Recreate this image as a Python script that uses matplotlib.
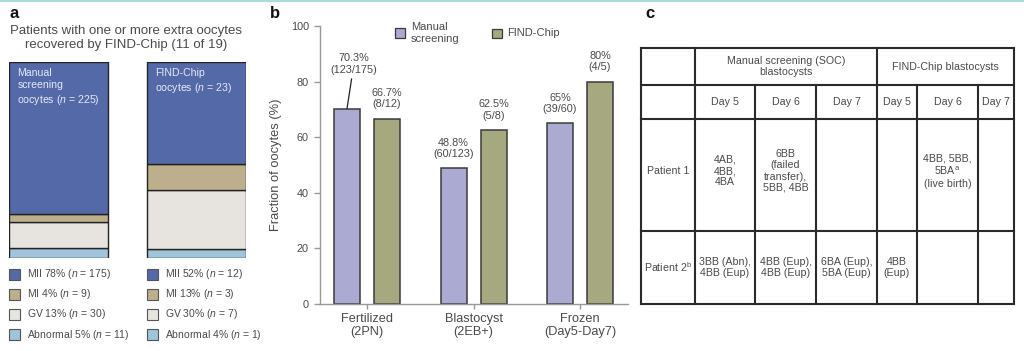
import matplotlib
matplotlib.use("Agg")
import matplotlib.pyplot as plt
from matplotlib.patches import Rectangle

plt.rcParams['font.family'] = ['Liberation Sans', 'DejaVu Sans']
plt.rcParams['mathtext.fontset'] = 'custom'
plt.rcParams['mathtext.it'] = 'Liberation Sans:italic'
plt.rcParams['mathtext.rm'] = 'Liberation Sans'

W, H = 1024, 351

# panel a: oocyte stages
stages = ['MII', 'MI', 'GV', 'Abnormal']
manual_counts = [175, 9, 30, 11]
chip_counts = [12, 3, 7, 1]
stage_colors = ['#5469a8', '#bdae8c', '#e7e4df', '#a0c4da']

# panel b: outcomes
outcomes = ['Fertilized\n(2PN)', 'Blastocyst\n(2EB+)', 'Frozen\n(Day5-Day7)']
manual_k = [123, 60, 39]
manual_n = [175, 123, 60]
chip_k = [8, 5, 4]
chip_n = [12, 8, 5]

# panel c: table
header_top = ['', 'Manual screening (SOC)\nblastocysts', 'FIND-Chip blastocysts']
header_days = ['', 'Day 5', 'Day 6', 'Day 7', 'Day 5', 'Day 6', 'Day 7']
row_p1 = ['Patient 1', '4AB,\n4BB,\n4BA', '6BB\n(failed\ntransfer),\n5BB, 4BB', '', '',
          '4BB, 5BB,\n5BA$^{\\mathrm{a}}$\n(live birth)', '']
row_p2 = ['Patient 2$^{\\mathrm{b}}$', '3BB (Abn),\n4BB (Eup)', '4BB (Eup),\n4BB (Eup)',
          '6BA (Eup),\n5BA (Eup)', '4BB\n(Eup)', '', '']

TXT = '#4a4a4a'


def px(x0, y0, x1, y1):
    return [x0 / W, 1 - y1 / H, (x1 - x0) / W, (y1 - y0) / H]


fig = plt.figure(figsize=(W / 100, H / 100), dpi=100)
ov = fig.add_axes([0, 0, 1, 1])
ov.set_xlim(0, W)
ov.set_ylim(H, 0)
ov.axis('off')
ov.set_zorder(5)

# thin line at the top of the screenshot
ov.plot([0, W], [0.8, 0.8], color='#a9ded6', lw=1.6)

# panel letters
for lab, x in zip(['a', 'b', 'c'], [9, 270, 645]):
    ov.text(x, 13, lab, fontsize=12, fontweight='bold', va='center', ha='left', color='#111')

# ---------- panel a ----------
ov.text(126, 38, 'Patients with one or more extra oocytes\nrecovered by FIND-Chip (11 of 19)',
        ha='center', va='center', fontsize=9.5, color=TXT, linespacing=1.15)

axa = fig.add_axes(px(9, 62, 246, 258))
bw = 99 / 138
for xi, counts in enumerate([manual_counts, chip_counts]):
    tot = sum(counts)
    bottom = 0
    for c, col in zip(counts[::-1], stage_colors[::-1]):
        axa.bar(xi, c / tot, bw, bottom=bottom, color=col, edgecolor='#222', lw=1)
        bottom += c / tot
axa.set_xlim(-0.5 * bw, 1 + 0.5 * bw)
axa.set_ylim(0, 1)
axa.axis('off')
axa.text(-0.5 * bw + 0.06, 0.97, 'Manual\nscreening\noocytes ($n$ = %d)' % sum(manual_counts),
         ha='left', va='top', fontsize=7.6, color='#e6e9f6', linespacing=1.3)
axa.text(1 - 0.5 * bw + 0.06, 0.97, 'FIND-Chip\noocytes ($n$ = %d)' % sum(chip_counts),
         ha='left', va='top', fontsize=7.6, color='#e6e9f6', linespacing=1.3)

for x0, counts in zip([9, 147], [manual_counts, chip_counts]):
    tot = sum(counts)
    for i, (name, c, col) in enumerate(zip(stages, counts, stage_colors)):
        y = 274 + i * 20.2
        ov.add_patch(Rectangle((x0, y - 5.5), 11, 11, facecolor=col, edgecolor='#555', lw=0.8))
        ov.text(x0 + 18, y, '%s %d%% ($n$ = %d)' % (name, round(100 * c / tot), c),
                ha='left', va='center', fontsize=7.5, color=TXT)

# ---------- panel b ----------
axb = fig.add_axes(px(320, 26, 628, 304))
off = 20 / 106.5
wb = 26 / 106.5
xs = list(range(len(outcomes)))
man_pct = [100 * k / n for k, n in zip(manual_k, manual_n)]
chip_pct = [100 * k / n for k, n in zip(chip_k, chip_n)]
axb.bar([x - off for x in xs], man_pct, wb, color='#aaaad3', edgecolor='#3a3a3a', lw=1.1)
axb.bar([x + off for x in xs], chip_pct, wb, color='#a6a880', edgecolor='#3a3a3a', lw=1.1)
axb.set_xlim(-47 / 106.5, 2 + 48 / 106.5)
axb.set_ylim(0, 100)
axb.set_yticks(range(0, 101, 20))
axb.set_xticks(xs)
axb.set_xticklabels(outcomes, fontsize=9.2, color=TXT, linespacing=1.15)
axb.tick_params(axis='y', labelsize=7.8, labelcolor=TXT, color='#999', length=4.5, width=1)
axb.tick_params(axis='x', color='#999', length=3.5, width=1, pad=3)
for s in ['top', 'right']:
    axb.spines[s].set_visible(False)
for s in ['left', 'bottom']:
    axb.spines[s].set_color('#999')
    axb.spines[s].set_linewidth(1)
axb.set_ylabel('Fraction of oocytes (%)', fontsize=9.3, color=TXT, labelpad=6)


def fmt(k, n):
    p = '%.1f' % (100 * k / n)
    p = p.rstrip('0').rstrip('.')
    return '%s%%\n(%d/%d)' % (p, k, n)


for i in xs:
    if i == 0:
        axb.annotate(fmt(manual_k[i], manual_n[i]), xy=(i - off, man_pct[i]),
                     xytext=(i - off + 0.065, 82.5), ha='center', va='bottom',
                     fontsize=7.8, color=TXT, linespacing=1.2,
                     arrowprops=dict(arrowstyle='-', color='#222', lw=0.9, shrinkA=1, shrinkB=0))
    else:
        axb.text(i - off, man_pct[i] + 3.3, fmt(manual_k[i], manual_n[i]), ha='center', va='bottom',
                 fontsize=7.8, color=TXT, linespacing=1.2)
    axb.text(i + off, chip_pct[i] + 3.3, fmt(chip_k[i], chip_n[i]), ha='center', va='bottom',
             fontsize=7.8, color=TXT, linespacing=1.2)

# legend b
ov.add_patch(Rectangle((395, 28), 9.5, 9.5, facecolor='#aaaad3', edgecolor='#3a3a3a', lw=0.9))
ov.text(411, 33, 'Manual\nscreening', ha='left', va='center', fontsize=8, color=TXT, linespacing=1.2)
ov.add_patch(Rectangle((492, 28.5), 9.5, 9.5, facecolor='#a6a880', edgecolor='#3a3a3a', lw=0.9))
ov.text(507, 33.5, 'FIND-Chip', ha='left', va='center', fontsize=8, color=TXT)

# ---------- panel c ----------
cols = [641, 695, 755, 816, 877, 917, 978, 1014]
rows = [48, 85, 119, 231, 304]
lc = '#2a2a2a'
lw = 1.5
for y in rows:
    ov.plot([cols[0], cols[-1]], [y, y], color=lc, lw=lw)
for x in [cols[0], cols[1], cols[4], cols[-1]]:
    ov.plot([x, x], [rows[0], rows[-1]], color=lc, lw=lw)
for x in [cols[2], cols[3], cols[5], cols[6]]:
    ov.plot([x, x], [rows[1], rows[-1]], color=lc, lw=lw)

spans = [(cols[0], cols[1]), (cols[1], cols[4]), (cols[4], cols[-1])]
for (a, b), t in zip(spans, header_top):
    ov.text((a + b) / 2, (rows[0] + rows[1]) / 2, t, ha='center', va='center',
            fontsize=7.7, color=TXT, linespacing=1.15)
for r, cells in zip(range(1, 4), [header_days, row_p1, row_p2]):
    yc = (rows[r] + rows[r + 1]) / 2
    if r == 2:
        yc -= 4
    for j, t in enumerate(cells):
        ov.text((cols[j] + cols[j + 1]) / 2, yc, t, ha='center', va='center',
                fontsize=7.7, color=TXT, linespacing=1.15)

fig.savefig('out.png', dpi=100)
